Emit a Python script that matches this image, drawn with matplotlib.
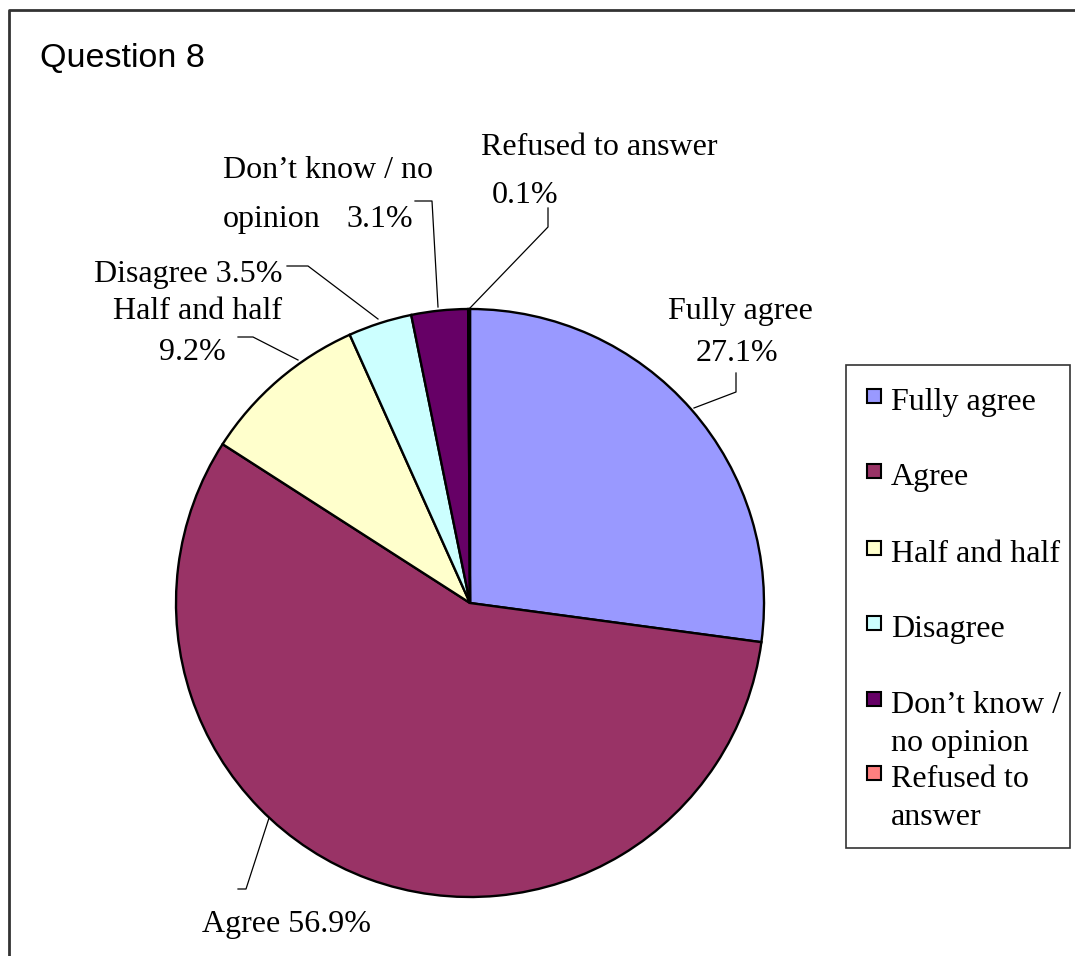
#pie chart for question 8, excel style
import matplotlib.pyplot as plt
from matplotlib.patches import Rectangle

#survey answers
labels = ['Fully agree', 'Agree', 'Half and half', 'Disagree',
          'Don\u2019t know / no opinion', 'Refused to answer']
legend_labels = ['Fully agree', 'Agree', 'Half and half', 'Disagree',
                 'Don\u2019t know /\nno opinion', 'Refused to\nanswer']
shares = [27.1, 56.9, 9.2, 3.5, 3.1, 0.1]
colors = ['#9999FF', '#993366', '#FFFFCC', '#CCFFFF', '#660066', '#FF8080']

W, H = 1075, 956
serif = 'Liberation Serif'
fs = 23

fig = plt.figure(figsize=(W / 100, H / 100), dpi=100)
#axes in pixel units, y grows downwards like the picture
ax = fig.add_axes([0, 0, 1, 1])
ax.set_xlim(0, W)
ax.set_ylim(H, 0)
ax.set_aspect('equal')
ax.axis('off')

#outer chart frame (cropped at right and bottom)
ax.plot([9, 9, W + 5], [H + 5, 10, 10], color='#333333', lw=2, zorder=1)

ax.text(40, 67, 'Question 8', family='Liberation Sans', fontsize=24.5,
        va='baseline', ha='left')

#with y inverted, start at -90 and go counterclockwise in data = clockwise on screen
wedges, _ = ax.pie(shares, colors=colors, startangle=-90, counterclock=True,
                   center=(470, 603), radius=294,
                   wedgeprops=dict(edgecolor='black', linewidth=1.7))
ax.set_xlim(0, W)
ax.set_ylim(H, 0)

#leader lines (label end -> pie edge)
leaders = [
    [(736, 373), (736, 392), (694, 408)],
    [(238, 889), (246, 889), (269, 818)],
    [(238, 337), (253, 337), (298, 360)],
    [(287, 266), (308, 266), (378, 319)],
    [(415, 201), (432, 201), (438, 307)],
    [(548, 208), (548, 227), (470, 308)],
]
for pts in leaders:
    xs, ys = zip(*pts)
    ax.plot(xs, ys, color='black', lw=0.9, zorder=3)

def lbl(x, y, s, ha='center'):
    ax.text(x, y, s, family=serif, fontsize=fs, ha=ha, va='baseline')

lbl(740, 319, 'Fully agree')
lbl(737, 361, f'{shares[0]}%')
lbl(287, 932, f'Agree {shares[1]}%')
lbl(198, 319, 'Half and half')
lbl(192, 360, f'{shares[2]}%')
lbl(283, 282, f'Disagree {shares[3]}%', ha='right')
lbl(223, 178, 'Don\u2019t know / no', ha='left')
lbl(223, 227, 'opinion', ha='left')
lbl(413, 227, f'{shares[4]}%', ha='right')
lbl(599, 155, 'Refused to answer')
lbl(525, 203, f'{shares[5]}%')

#legend box drawn by hand to match excel spacing
ax.add_patch(Rectangle((846, 365), 224, 483, fill=False, edgecolor='#333333', lw=1.2))
rows = [410, 485, 562, 637, 713, 787]
for lab, col, y in zip(legend_labels, colors, rows):
    ax.add_patch(Rectangle((867, y - 21), 14, 14, facecolor=col,
                           edgecolor='black', lw=1.5))
    for i, line in enumerate(lab.split('\n')):
        lbl(891, y + i * 38, line, ha='left')

fig.savefig('out.png', dpi=100)
